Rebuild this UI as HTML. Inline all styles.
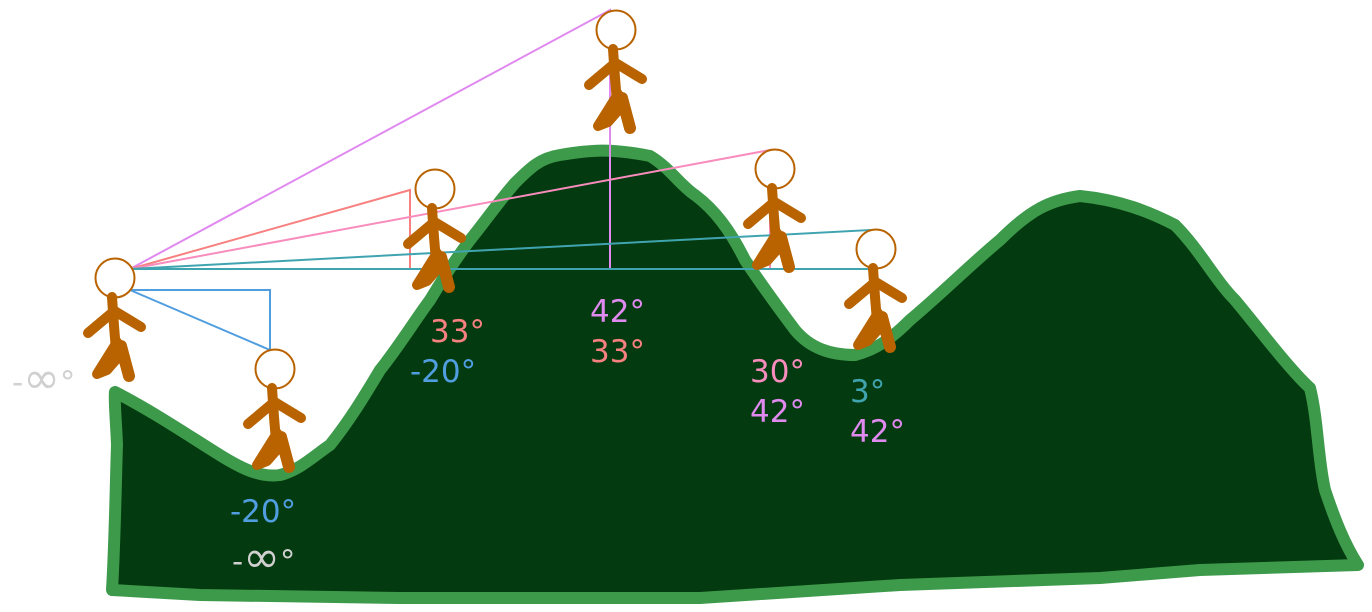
<!DOCTYPE html>
<html><head><meta charset="utf-8"><style>
html,body{margin:0;padding:0;background:#fff;}
svg{display:block;}
text{font-family:"DejaVu Sans","Liberation Sans",sans-serif;font-size:31px;}
</style></head><body>
<svg width="1372" height="612" viewBox="0 0 1372 612" xmlns="http://www.w3.org/2000/svg">
<defs>
<g id="fig">
<circle cx="0" cy="0" r="19.5" fill="#fff" stroke="#b86200" stroke-width="2"/>
<g stroke="#b86200" stroke-linecap="round" stroke-linejoin="round" fill="#b86200">
<path d="M-3,19 L-1,48 L1,72" stroke-width="10" fill="none"/>
<path d="M-2,34 L-27,55" stroke-width="10"/>
<path d="M-2,32 L26,49" stroke-width="10"/>
<path d="M2,64 L-18,96 L-8,92 L6,76 Z" stroke-width="10"/>
<path d="M6,68 L14,98" stroke-width="12"/>
</g>
</g>
</defs>
<path d="M112,590 C115,540 116,470 117,445 C116,420 114,400 115,392 C150,410 180,430 215,452 C240,468 260,478 280,475 C300,470 315,455 330,445 C350,420 365,395 380,370 C400,345 415,320 430,300 C445,275 455,260 470,240 C490,215 500,200 515,183 C530,168 540,158 560,155 C590,150 610,148 650,156 C670,168 680,185 695,195 C715,210 730,230 745,260 C765,290 780,310 795,330 C810,348 830,355 855,355 C875,350 890,340 910,320 C940,295 970,265 1000,240 C1030,210 1050,200 1080,196 C1120,200 1150,212 1175,225 C1200,250 1215,280 1235,300 C1260,330 1290,370 1310,388 C1318,420 1318,460 1325,490 C1335,520 1345,545 1358,565 L1200,570 L1100,578 L900,585 L700,598 L400,598 L200,595 Z" fill="#043a0f" stroke="#3d9a4b" stroke-width="12" stroke-linejoin="round"/>
<g fill="none" stroke-width="2">
<path d="M130,269 L610,10 L610,270" stroke="#e08af0"/>
<path d="M130,269 L410,190 L410,270" stroke="#f78080"/>
<path d="M130,269 L770,150 L770,270" stroke="#f88cbd"/>
<path d="M130,269 L870,230 L870,269 L130,269" stroke="#40a4b0"/>
<path d="M130,290 L270,350 L270,290 L130,290" stroke="#509ee0"/>
</g>
<use href="#fig" x="115" y="278"/>
<use href="#fig" x="275" y="369"/>
<use href="#fig" x="435" y="189"/>
<use href="#fig" x="616" y="30"/>
<use href="#fig" x="775" y="169"/>
<use href="#fig" x="876" y="249"/>
<text x="12" y="393" fill="#d0d0d0">-<tspan font-size="44">∞</tspan>°</text>
<text x="430" y="342" fill="#f78080">33°</text>
<text x="410" y="382" fill="#509ee0">-20°</text>
<text x="590" y="322" fill="#e08af0">42°</text>
<text x="590" y="362" fill="#f78080">33°</text>
<text x="750" y="382" fill="#f88cbd">30°</text>
<text x="750" y="422" fill="#e08af0">42°</text>
<text x="850" y="402" fill="#40a4b0">3°</text>
<text x="850" y="442" fill="#e08af0">42°</text>
<text x="230" y="522" fill="#509ee0">-20°</text>
<text x="232" y="572" fill="#d0d0d0">-<tspan font-size="44">∞</tspan>°</text>
</svg>
</body></html>
